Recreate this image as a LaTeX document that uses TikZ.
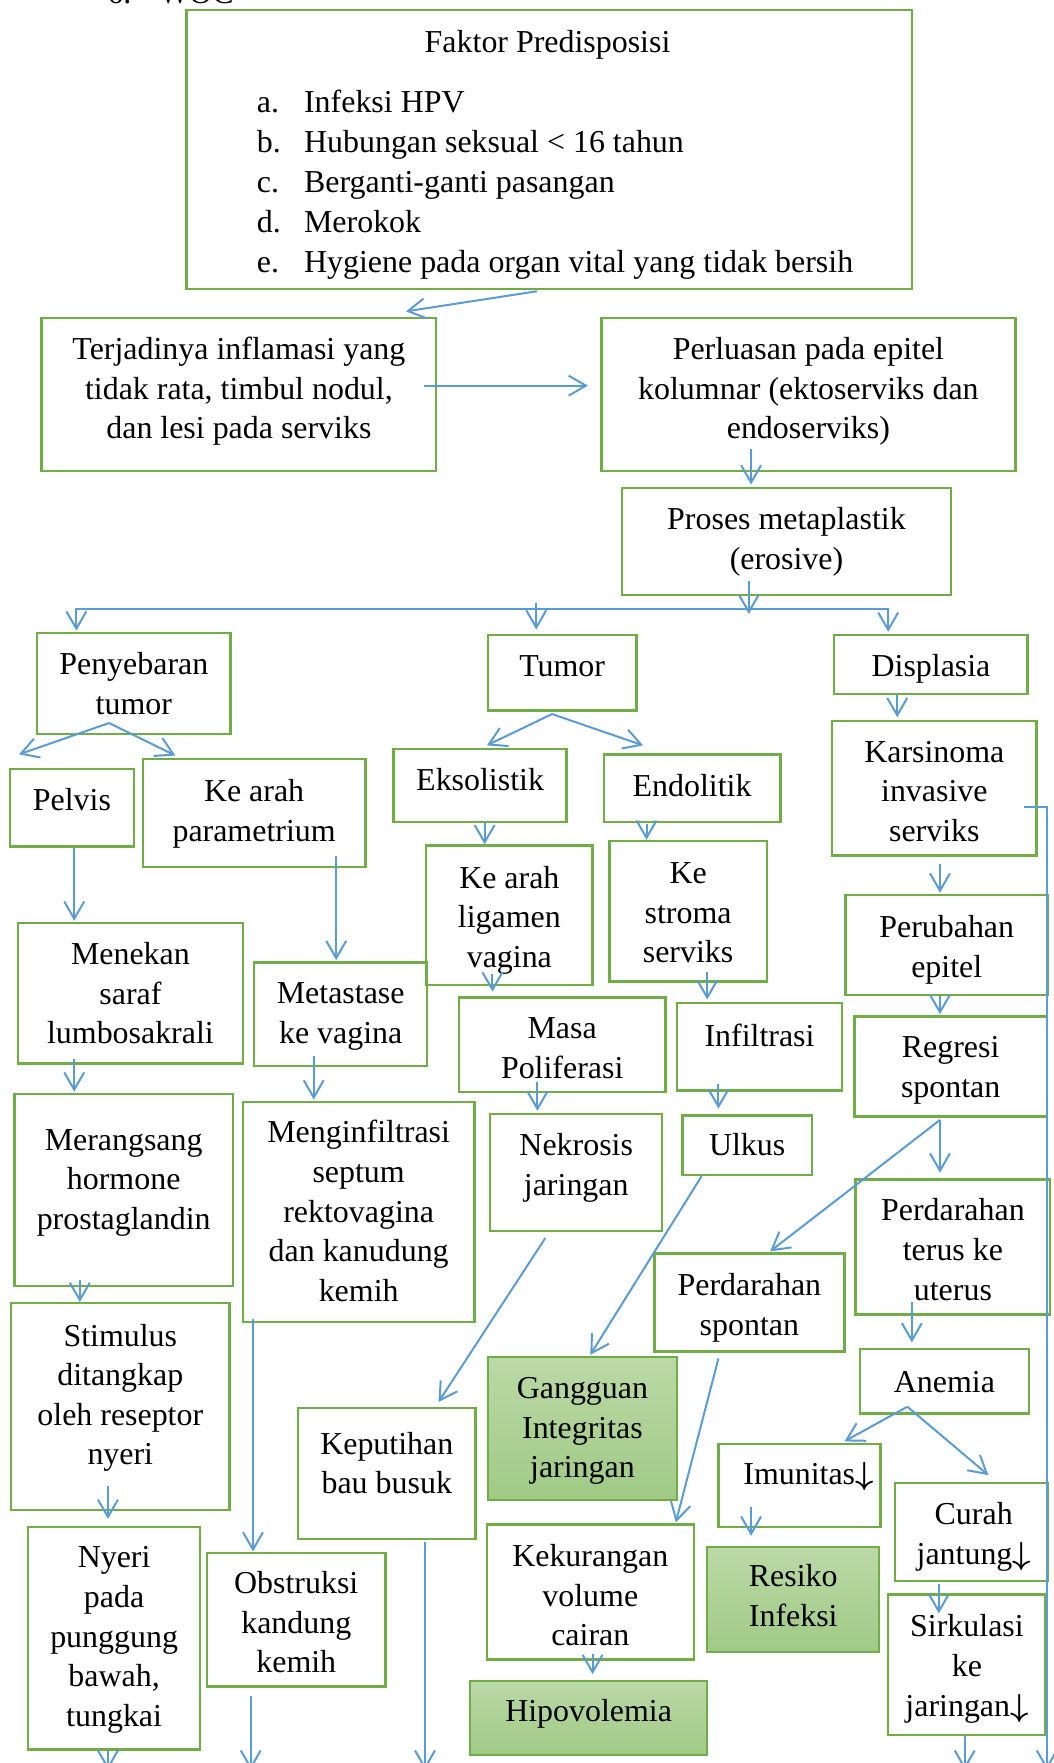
\documentclass[tikz,border=0pt]{standalone}
\usepackage{fontspec}
\setmainfont{Liberation Serif}[Ligatures=CommonOff]
\usepackage{xcolor}
\usepackage{tikz}
\usetikzlibrary{arrows.meta, positioning, calc, fit}
\definecolor{boxgreen}{RGB}{112,173,71}
\definecolor{linkblue}{RGB}{91,155,213}
\definecolor{fillhi}{RGB}{187,217,167}
\definecolor{filllo}{RGB}{160,202,133}
% centred lines of a box
\newcommand{\boxlines}[1]{\begin{tabular}{@{}c@{}}#1\end{tabular}}
% falling arrow after a word
\newcommand{\turun}{{\boldmath$\downarrow$}}

\begin{document}
\begin{tikzpicture}[x=0.4226pt, y=-0.4226pt,
  box/.style={draw=boxgreen, line width=0.9pt, inner sep=0pt},
  boxfill/.style={box, top color=fillhi, bottom color=filllo},
  lines/.style={inner sep=0pt, font=\fontsize{12}{14.9}\selectfont},
  txt/.style={lines, text height=9pt, text depth=3pt},
  conn/.style={draw=linkblue, line width=0.75pt,
    -{Straight Barb[length=6.5pt,width=7.5pt]}}]
  \useasboundingbox (0,0) rectangle (937,1568);

  % Heading (cut by the page top)
  \node[txt, anchor=base west] (num) at (95,3) {6.};
  \node[txt, anchor=base west] (woc) at (141,3) {WOC};

  % Faktor predisposisi
  \node[box, fit={(166,9) (811,257)}] (faktor) {};
  \node[txt] (faktorTitle) at (487,40) {Faktor Predisposisi};
  \foreach \lbl/\entry [count=\i] in {a/Infeksi HPV, b/Hubungan seksual < 16 tahun,
      c/Berganti-ganti pasangan, d/Merokok, e/Hygiene pada organ vital yang tidak bersih}{
    \node[txt, anchor=west] (lbl\i) at (228, {93+35.5*(\i-1)}) {\lbl.};
    \node[txt, anchor=west] (item\i) at (270, {93+35.5*(\i-1)}) {\entry};
  }

  % Boxes
  \node[box, fit={(37,283) (388,419)}] (terjadi) {};
  \node[box, fit={(535,283) (903,419)}] (perluas) {};
  \node[box, fit={(553,434) (846,529)}] (proses) {};
  \node[box, fit={(33,563) (205,653)}] (sebar) {};
  \node[box, fit={(434,565) (566,632)}] (tumor) {};
  \node[box, fit={(742,565) (914,617)}] (displ) {};
  \node[box, fit={(9,684) (119,753)}] (pelvis) {};
  \node[box, fit={(127,675) (325,771)}] (param) {};
  \node[box, fit={(350,666) (504,731)}] (ekso) {};
  \node[box, fit={(537,671) (694,731)}] (endo) {};
  \node[box, fit={(740,641) (922,761)}] (karsi) {};
  \node[box, fit={(379,752) (527,876)}] (ligamen) {};
  \node[box, fit={(542,748) (682,873)}] (stroma) {};
  \node[box, fit={(752,796) (932,885)}] (epitel) {};
  \node[box, fit={(16,821) (216,946)}] (menekan) {};
  \node[box, fit={(226,856) (380,948)}] (metast) {};
  \node[box, fit={(408,887) (592,971)}] (masa) {};
  \node[box, fit={(602,892) (749,970)}] (infil) {};
  \node[box, fit={(760,904) (931,993)}] (regresi) {};
  \node[box, fit={(13,973) (207,1144)}] (rangsang) {};
  \node[box, fit={(216,980) (422,1176)}] (septum) {};
  \node[box, fit={(436,991) (589,1095)}] (nekrosis) {};
  \node[box, fit={(607,992) (722,1045)}] (ulkus) {};
  \node[box, fit={(761,1049) (934,1169)}] (terus) {};
  \node[box, fit={(582,1115) (751,1202)}] (spontan) {};
  \node[box, fit={(10,1159) (204,1343)}] (stimulus) {};
  \node[boxfill, fit={(434,1207) (602,1334)}] (gangguan) {};
  \node[box, fit={(765,1200) (915,1257)}] (anemia) {};
  \node[box, fit={(265,1252) (423,1369)}] (putih) {};
  \node[box, fit={(639,1284) (783,1358)}] (imun) {};
  \node[box, fit={(796,1319) (932,1406)}] (curah) {};
  \node[box, fit={(25,1358) (178,1556)}] (nyeri) {};
  \node[box, fit={(184,1381) (343,1500)}] (obstruksi) {};
  \node[box, fit={(433,1356) (617,1476)}] (kurang) {};
  \node[boxfill, fit={(629,1376) (782,1469)}] (resiko) {};
  \node[box, fit={(790,1418) (930,1543)}] (sirkulasi) {};
  \node[boxfill, fit={(418,1495) (629,1561)}] (hipo) {};

  % Texts of the boxes
  \node[lines] (terjadiT) at ($(terjadi)+(0,-3)$) {\boxlines{Terjadinya inflamasi yang\\tidak rata, timbul nodul,\\dan lesi pada serviks}};
  \node[lines] (perluasT) at ($(perluas)+(0,-3)$) {\boxlines{Perluasan pada epitel\\kolumnar (ektoserviks dan\\endoserviks)}};
  \node[lines] (prosesT) at (proses) {\boxlines{Proses metaplastik\\(erosive)}};
  \node[lines] (sebarT) at ($(sebar)+(0,2.5)$) {\boxlines{Penyebaran\\tumor}};
  \node[lines] (tumorT) at ($(tumor)+(0,-3.5)$) {\boxlines{Tumor}};
  \node[lines] (displT) at ($(displ)+(0,4)$) {\boxlines{Displasia}};
  \node[lines] (pelvisT) at ($(pelvis)+(0,-4.5)$) {\boxlines{Pelvis}};
  \node[lines] (paramT) at ($(param)+(0,0.5)$) {\boxlines{Ke arah\\parametrium}};
  \node[lines] (eksoT) at ($(ekso)+(0,-2.5)$) {\boxlines{Eksolistik}};
  \node[lines] (endoT) at (endo) {\boxlines{Endolitik}};
  \node[lines] (karsiT) at ($(karsi)+(0,5)$) {\boxlines{Karsinoma\\invasive\\serviks}};
  \node[lines] (ligamenT) at ($(ligamen)+(0,4)$) {\boxlines{Ke arah\\ligamen\\vagina}};
  \node[lines] (stromaT) at ($(stroma)+(0,3.5)$) {\boxlines{Ke\\stroma\\serviks}};
  \node[lines] (epitelT) at ($(epitel)+(0,4)$) {\boxlines{Perubahan\\epitel}};
  \node[lines] (menekanT) at ($(menekan)+(0,2.5)$) {\boxlines{Menekan\\saraf\\lumbosakrali}};
  \node[lines] (metastT) at ($(metast)+(0,1.5)$) {\boxlines{Metastase\\ke vagina}};
  \node[lines] (masaT) at ($(masa)+(0,5.5)$) {\boxlines{Masa\\Poliferasi}};
  \node[lines] (infilT) at ($(infil)+(0,-7)$) {\boxlines{Infiltrasi}};
  \node[lines] (regresiT) at ($(regresi)+(0,3)$) {\boxlines{Regresi\\spontan}};
  \node[lines] (rangsangT) at ($(rangsang)+(0,-7.5)$) {\boxlines{Merangsang\\hormone\\prostaglandin}};
  \node[lines] (septumT) at ($(septum)+(0,2)$) {\boxlines{Menginfiltrasi\\septum\\rektovagina\\dan kanudung\\kemih}};
  \node[lines] (nekrosisT) at ($(nekrosis)+(0,-4.5)$) {\boxlines{Nekrosis\\jaringan}};
  \node[lines] (ulkusT) at ($(ulkus)+(0,2.5)$) {\boxlines{Ulkus}};
  \node[lines] (terusT) at ($(terus)+(0,5)$) {\boxlines{Perdarahan\\terus ke\\uterus}};
  \node[lines] (spontanT) at ($(spontan)+(0,4.5)$) {\boxlines{Perdarahan\\spontan}};
  \node[lines] (stimulusT) at ($(stimulus)+(0,-8)$) {\boxlines{Stimulus\\ditangkap\\oleh reseptor\\nyeri}};
  \node[lines] (gangguanT) at ($(gangguan)+(0,1.5)$) {\boxlines{Gangguan\\Integritas\\jaringan}};
  \node[lines] (anemiaT) at ($(anemia)+(0,2.5)$) {\boxlines{Anemia}};
  \node[lines] (putihT) at ($(putih)+(0,-6.5)$) {\boxlines{Keputihan\\bau busuk}};
  \node[lines] (imunT) at ($(imun)+(8,-8)$) {\boxlines{Imunitas\turun}};
  \node[lines] (curahT) at ($(curah)+(2,4)$) {\boxlines{Curah\\jantung\turun}};
  \node[lines] (nyeriT) at ($(nyeri)+(0,1)$) {\boxlines{Nyeri\\pada\\punggung\\bawah,\\tungkai}};
  \node[lines] (obstruksiT) at ($(obstruksi)+(0,5)$) {\boxlines{Obstruksi\\kandung\\kemih}};
  \node[lines] (kurangT) at ($(kurang)+(0,5.5)$) {\boxlines{Kekurangan\\volume\\cairan}};
  \node[lines] (resikoT) at ($(resiko)+(0,-0.5)$) {\boxlines{Resiko\\Infeksi}};
  \node[lines] (sirkulasiT) at ($(sirkulasi)+(0,3.5)$) {\boxlines{Sirkulasi\\ke\\jaringan\turun}};
  \node[lines] (hipoT) at ($(hipo)+(0,-4)$) {\boxlines{Hipovolemia}};

  % Arrows, top
  \draw[conn] ($(faktor.south)+(-11,1)$) -- ($(terjadi.north east)+(-28,-5)$);
  \draw[conn] ($(terjadi.east)+(-12,-8)$) -- ($(perluas.west)+(-11,-8)$);
  \draw[conn] ($(perluas.south)+(-51,-21)$) -- ($(proses.north)+(-31.5,-2)$);

  \coordinate (split) at ($(proses.south)+(-33.5,12)$);
  \draw[conn] ($(proses.south)+(-33.5,-13)$) -- ($(split)+(0,4)$);
  \draw[conn] (split) -| ($(sebar.north west)+(36,-1)$);
  \draw[conn] (split) -| ($(displ.north west)+(49,-2)$);
  \draw[conn] ($(tumor.north west)+(44,-28)$) -- ($(tumor.north west)+(44,-4)$);

  % Penyebaran tumor and Tumor forks
  \coordinate (sebarFork) at ($(sebar.south)+(-22,-11)$);
  \draw[conn] (sebarFork) -- ($(pelvis.north west)+(9,-12)$);
  \draw[conn] (sebarFork) -- ($(param.north west)+(30,-2)$);
  \coordinate (tumorFork) at ($(tumor.south)+(-9,2)$);
  \draw[conn] (tumorFork) -- ($(ekso.north)+(6,-2)$);
  \draw[conn] (tumorFork) -- ($(endo.north west)+(36,-7)$);

  \draw[conn] ($(displ.south)+(-30,0)$) -- ($(karsi.north)+(-33,-2)$);
  \draw[conn] ($(pelvis.south)+(2,0)$) -- ($(menekan.north)+(-50,-1)$);
  \draw[conn] ($(param.south)+(73,-11)$) -- ($(metast.north)+(-4,-1)$);
  \draw[conn] ($(ekso.south)+(4,0)$) -- ($(ligamen.north)+(-22,0)$);
  \draw[conn] ($(endo.south)+(-40.5,1)$) -- ($(stroma.north)+(-37,0)$);

  % Long line on the right
  \coordinate (outR) at (931,1574);
  \draw[conn] ($(karsi.east)+(-12,17)$) -| (outR);

  \draw[conn] ($(karsi.south)+(5,6)$) -- ($(epitel.north)+(-6,-1)$);
  \draw[conn] ($(ligamen.south)+(-15,-11)$) -- ($(masa.north)+(-62,-4)$);
  \draw[conn] ($(stroma.south)+(17,-10)$) -- ($(infil.north)+(-46.5,-2)$);
  \draw[conn] ($(epitel.south)+(-6,0)$) -- ($(regresi.north)+(-9.5,-1)$);
  \draw[conn] ($(menekan.south)+(-50,-5)$) -- ($(rangsang.north)+(-44,-1)$);
  \draw[conn] ($(metast.south)+(-24,-10)$) -- ($(septum.north)+(-40,-1)$);
  \draw[conn] ($(masa.south)+(-22,-10)$) -- ($(nekrosis.north)+(-34.5,-2)$);
  \draw[conn] ($(infil.south)+(-36.5,-7)$) -- ($(ulkus.north)+(-25.5,-5)$);

  % Regresi spontan fork
  \coordinate (regFork) at ($(regresi.south)+(-9.5,2)$);
  \draw[conn] (regFork) -- ($(terus.north)+(-11.5,-5)$);
  \draw[conn] (regFork) -- ($(spontan.north)+(18.5,-1)$);

  \draw[conn] ($(rangsang.south)+(-39,-7)$) -- ($(stimulus.north)+(-36,0)$);
  \draw[conn] ($(septum.south)+(-94,-4)$) -- ($(obstruksi.north)+(-38.5,0)$);
  \draw[conn] ($(nekrosis.south)+(-27.5,5)$) -- ($(putih.north)+(46,-4)$);
  \draw[conn] ($(ulkus.south)+(-40.5,0)$) -- ($(gangguan.north)+(7,-1)$);
  \draw[conn] ($(spontan.south)+(-27.5,5)$) -- ($(kurang.north east)+(-17,-1)$);
  \draw[conn] ($(terus.south)+(-36.5,-12)$) -- ($(anemia.north)+(-29,-5)$);

  % Anemia fork
  \coordinate (anemiaFork) at ($(anemia.south)+(-33,-7)$);
  \draw[conn] (anemiaFork) -- ($(imun.north east)+(-33,-1)$);
  \draw[conn] (anemiaFork) -- ($(curah.north)+(15,-6)$);

  \draw[conn] ($(stimulus.south)+(-11,-22)$) -- ($(nyeri.north)+(-5.5,-6)$);
  \draw[conn] ($(imun.south)+(-43,-19)$) -- ($(resiko.north)+(-37.5,-9)$);
  \draw[conn] ($(curah.south)+(-29,2)$) -- ($(sirkulasi.north)+(-25,18)$);
  \draw[conn] ($(kurang.south)+(2,-6)$) -- ($(hipo.north)+(3.5,-5)$);

  % Arrows leaving the page
  \coordinate (outA) at (96,1574);
  \coordinate (outB) at (223,1574);
  \coordinate (outC) at (378,1574);
  \coordinate (outD) at (858,1574);
  \draw[conn] ($(nyeri.south)+(-5.5,0)$) -- (outA);
  \draw[conn] ($(obstruksi.south)+(-40.5,7)$) -- (outB);
  \draw[conn] ($(putih.south)+(34,1)$) -- (outC);
  \draw[conn] ($(sirkulasi.south)+(-2,0)$) -- (outD);
\end{tikzpicture}
\end{document}
